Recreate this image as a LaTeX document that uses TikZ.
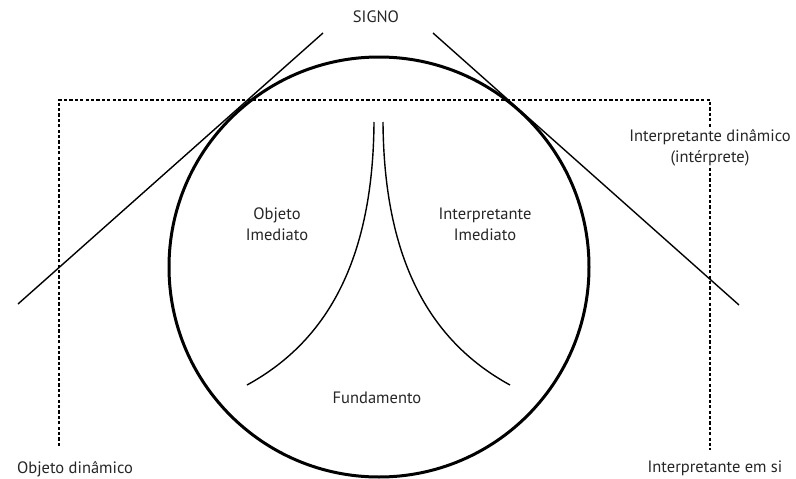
\documentclass[tikz,border=0pt]{standalone}
\usepackage{fontspec}
\setmainfont{PT Sans}
\definecolor{txt}{HTML}{262626}
\begin{document}
\begin{tikzpicture}[x=1pt,y=-1pt,
  lbl/.style={text=txt,font=\fontsize{16.5}{21}\selectfont,align=center,inner sep=1pt},
  tang/.style={line width=1.4pt},
  inner/.style={line width=1.4pt},
  dots/.style={line width=2.8pt,dash pattern=on 3.2pt off 2.2pt}]
\useasboundingbox (0,0) rectangle (796,479);
\node[circle,draw,line width=3pt,minimum size=420pt,inner sep=0pt] (sig) at (379,267) {};
\node[lbl] (signo) at (376,17) {SIGNO};
\coordinate (l1) at (323,33);
\coordinate (l2) at (18,304);
\coordinate (r1) at (433,33);
\coordinate (r2) at (739,305);
\draw[tang] (l1) -- (l2);
\draw[tang] (r1) -- (r2);
\coordinate (tl) at (59,100);
\coordinate (tr) at (710,100);
\coordinate (bl) at (59,446);
\coordinate (br) at (710,450);
\node[lbl] (idin) at (710,148) {Interpretante dinâmico\\(intérprete)};
\node[lbl] (odin) at (75,469) {Objeto dinâmico};
\node[lbl] (iesi) at (715,468) {Interpretante em si};
\draw[dots] (bl) -- (tl) -- (tr) -- (tr |- idin.north);
\draw[dots] (br |- idin.south) -- (br);
\coordinate (c1) at (374,122);
\coordinate (c2) at (247,385);
\coordinate (c3) at (383,122);
\coordinate (c4) at (510,385);
\draw[inner] (c1) .. controls (373,270) and (320,345) .. (c2);
\draw[inner] (c3) .. controls (384,270) and (437,345) .. (c4);
\node[lbl] (oim) at (277,224) {Objeto\\Imediato};
\node[lbl] (iim) at (485,224) {Interpretante\\Imediato};
\node[lbl] (fund) at (377,398) {Fundamento};
\end{tikzpicture}
\end{document}
